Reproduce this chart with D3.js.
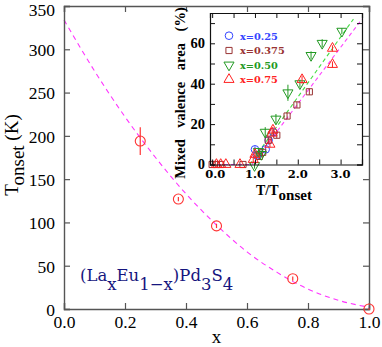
<!DOCTYPE html>
<html><head><meta charset="utf-8">
<script src="https://cdn.jsdelivr.net/npm/d3@7"></script>
<style>body{margin:0;background:#fff}svg{display:block}</style>
</head><body><svg id="c" width="382" height="347"></svg>
<script>
// ---- main panel data ----
const xComp = [0.25, 0.375, 0.5, 0.75, 1.0];
const tOnset = [194, 127, 96, 35, 0];
const tErr = [16, 2.5, 2.5, 2.5, 1];
const fitX = [0, 0.1, 0.2, 0.3, 0.4, 0.5, 0.6, 0.7, 0.8, 0.9, 1.0];
const fitT = [334, 275, 222, 175, 133, 97, 66, 42, 23, 10, 2];
const mainXTicks = [0, 0.2, 0.4, 0.6, 0.8, 1.0];
const mainYTicks = [0, 50, 100, 150, 200, 250, 300, 350];

// ---- inset data: [T/Tonset, mixed valence area %, error] ----
const seriesNames = ["x=0.25", "x=0.375", "x=0.50", "x=0.75"];
const s025 = [[1.0,7.5,1.5],[1.05,4.5,1.5],[1.25,7.5,1.5],[1.32,12,1.5],[1.43,16,1.5]];
const s0375 = [[0.0,0,0],[0.1,0,0],[0.2,0,0],[0.72,0,0],[1.1,4,1.5],[1.18,6,1.5],[1.31,12,1.5],[1.51,14.5,1.5],[1.75,24,1.5],[1.98,29.5,1.5],[2.27,36,1.5]];
const s050 = [[0.99,-0.5,1.5],[1.08,6.5,1.5],[1.15,5,1.5],[1.24,16,2.5],[1.49,22.5,2.5],[1.77,35.5,4],[2.05,40,2],[2.31,54,2],[2.57,60,2],[3.03,66,1.5]];
const s075 = [[0.1,0,0],[0.2,0,0],[0.32,0,0],[0.65,0,0],[0.96,2.5,1.5],[1.0,5,1.5],[1.35,10,1.5],[1.4,15.5,1.5],[1.42,17,1.5],[2.1,42,2],[2.81,57.5,1.5],[2.81,49.5,1.5]];
const lineMagentaX = [-0.05, 0.93, 3.5];
const lineMagentaY = [0, 0, 72];
const lineGreenX = [0.88, 3.3];
const lineGreenY = [0, 72];
const insetXTicks = [0, 1, 2, 3];
const insetYTicks = [0, 20, 40, 60];

const svg = d3.select("#c");
const serif = "'Liberation Serif', 'Times New Roman', serif";
const wide = "'DejaVu Serif', serif";

// ================= MAIN PANEL =================
const x = d3.scaleLinear().domain([0, 1]).range([64, 369]);
const y = d3.scaleLinear().domain([0, 350]).range([309, 6]);
const frameCol = "#555";

// fit curve
svg.append("path")
  .datum(fitX.map((v, i) => [v, fitT[i]]))
  .attr("d", d3.line().x(d => x(d[0])).y(d => y(d[1])).curve(d3.curveMonotoneX))
  .attr("fill", "none").attr("stroke", "#ff33ff").attr("stroke-width", 1.1)
  .attr("stroke-dasharray", "5,4");

// axes (inward ticks)
const gB = svg.append("g").attr("transform", `translate(0,${y(0)})`)
  .call(d3.axisBottom(x).tickValues(mainXTicks).tickSize(-6).tickPadding(9).tickFormat(d3.format(".1f")));
const gT = svg.append("g").attr("transform", `translate(0,${y(350)})`)
  .call(d3.axisTop(x).tickValues(mainXTicks).tickSize(-6).tickFormat(""));
const gL = svg.append("g").attr("transform", `translate(${x(0)},0)`)
  .call(d3.axisLeft(y).tickValues(mainYTicks).tickSize(-6).tickPadding(9).tickFormat(d3.format("d")));
const gR = svg.append("g").attr("transform", `translate(${x(1)},0)`)
  .call(d3.axisRight(y).tickValues(mainYTicks).tickSize(-6).tickFormat(""));
[gB, gT, gL, gR].forEach(g => {
  g.select(".domain").attr("stroke", frameCol).attr("stroke-width", 1.4);
  g.selectAll(".tick line").attr("stroke", frameCol).attr("stroke-width", 1.2);
  g.selectAll("text").attr("font-family", serif).attr("font-size", 17.5).attr("fill", "#000");
});
gB.selectAll("text").attr("dy", "0.71em").attr("y", 7);
gL.selectAll("text").attr("dy", "0.36em");
gL.selectAll(".tick").filter(d => d === 350).select("text").attr("dy", "0.55em");

// data points
const red = "#ff3333";
const pts = svg.append("g");
xComp.forEach((v, i) => {
  pts.append("line").attr("x1", x(v)).attr("x2", x(v))
    .attr("y1", y(tOnset[i] - tErr[i])).attr("y2", y(tOnset[i] + tErr[i]))
    .attr("stroke", red).attr("stroke-width", 1.2);
  pts.append("circle").attr("cx", x(v)).attr("cy", y(tOnset[i])).attr("r", 5)
    .attr("fill", "none").attr("stroke", red).attr("stroke-width", 1.1);
});

// axis labels
svg.append("text").attr("x", x(0.5)).attr("y", 343).attr("text-anchor", "middle")
  .attr("font-family", serif).attr("font-size", 19).text("x");
const yl = svg.append("text").attr("transform", "translate(18,155) rotate(-90)")
  .attr("text-anchor", "middle").attr("font-family", serif).attr("font-size", 19);
yl.append("tspan").text("T");
yl.append("tspan").attr("dy", 6).text("onset");
yl.append("tspan").attr("dy", -6).text(" (K)");

// compound label
const cl = svg.append("text").attr("x", 80).attr("y", 281)
  .attr("font-family", wide).attr("font-size", 16.5).attr("fill", "#15157e");
cl.append("tspan").text("(La");
cl.append("tspan").attr("dy", 9).text("x");
cl.append("tspan").attr("dy", -9).text("Eu");
cl.append("tspan").attr("dy", 9).text("1\u2212x");
cl.append("tspan").attr("dy", -9).text(")Pd");
cl.append("tspan").attr("dy", 9).text("3");
cl.append("tspan").attr("dy", -9).text("S");
cl.append("tspan").attr("dy", 9).text("4");

// ================= INSET =================
const ix = d3.scaleLinear().domain([-0.05, 3.5]).range([210, 362]);
const iy = d3.scaleLinear().domain([0, 75]).range([164.5, 13]);
const ins = svg.append("g");
ins.append("rect").attr("x", 210).attr("y", 13).attr("width", 152).attr("height", 151.5).attr("fill", "#fff");

const mk = (xs, ys) => xs.map((v, i) => [v, ys[i]]);
const ln = d3.line().x(d => ix(d[0])).y(d => iy(d[1]));
ins.append("path").datum(mk(lineGreenX, lineGreenY)).attr("d", ln)
  .attr("fill", "none").attr("stroke", "#44dd44").attr("stroke-width", 1.1).attr("stroke-dasharray", "4,3");
ins.append("path").datum(mk(lineMagentaX, lineMagentaY)).attr("d", ln)
  .attr("fill", "none").attr("stroke", "#ff44ff").attr("stroke-width", 1.1).attr("stroke-dasharray", "4,3");

const colors = ["#3344ff", "#993333", "#229922", "#ff2222"];
const shapes = [d3.symbolCircle, d3.symbolSquare, d3.symbolTriangle, d3.symbolTriangle];
const rots = [0, 0, 180, 0];
const sizes = [46, 38, 44, 44];
const allSeries = [s025, s0375, s050, s075];

allSeries.forEach((s, k) => {
  const g = ins.append("g");
  s.forEach(p => {
    if (p[2] > 0) {
      g.append("line").attr("x1", ix(p[0])).attr("x2", ix(p[0]))
        .attr("y1", iy(p[1] - p[2])).attr("y2", iy(p[1] + p[2]))
        .attr("stroke", colors[k]).attr("stroke-width", 1);
    }
    g.append("path").attr("d", d3.symbol().type(shapes[k]).size(sizes[k])())
      .attr("transform", `translate(${ix(p[0])},${iy(p[1])}) rotate(${rots[k]})`)
      .attr("fill", "none").attr("stroke", colors[k]).attr("stroke-width", 1);
  });
});

// inset axes
const ixT = d3.range(0, 3.51, 0.5);
const iyT = d3.range(0, 75, 10);
const ia = [
  ins.append("g").attr("transform", `translate(0,${iy(0)})`).call(d3.axisBottom(ix).tickValues(ixT).tickSize(-5).tickFormat("")),
  ins.append("g").attr("transform", `translate(0,${iy(75)})`).call(d3.axisTop(ix).tickValues(ixT).tickSize(-5).tickFormat("")),
  ins.append("g").attr("transform", `translate(${ix(-0.05)},0)`).call(d3.axisLeft(iy).tickValues(iyT).tickSize(-5).tickFormat("")),
  ins.append("g").attr("transform", `translate(${ix(3.5)},0)`).call(d3.axisRight(iy).tickValues(iyT).tickSize(-5).tickFormat(""))
];
ia.forEach(g => {
  g.select(".domain").attr("stroke", "#111").attr("stroke-width", 1.2);
  g.selectAll(".tick line").attr("stroke", "#111");
});
// inset tick labels
ins.selectAll(".ixl").data(insetXTicks).enter().append("text")
  .attr("x", d => ix(d) + (d === 0 ? 3 : 0)).attr("y", 178).attr("text-anchor", "middle")
  .attr("font-family", wide).attr("font-weight", "bold").attr("font-size", 11.5)
  .text(d => d3.format(".1f")(d));
ins.selectAll(".iyl").data(insetYTicks).enter().append("text")
  .attr("x", 205).attr("y", d => iy(d) + 5 - (d === 0 ? 1 : 0)).attr("text-anchor", "end")
  .attr("font-family", serif).attr("font-weight", "bold").attr("font-size", 14.5)
  .text(d => d);

// inset axis labels
const ixl = ins.append("text").attr("x", 256).attr("y", 195)
  .attr("font-family", serif).attr("font-weight", "bold").attr("font-size", 14);
ixl.append("tspan").text("T/T");
ixl.append("tspan").attr("dy", 5).attr("font-size", 15).text("onset");
ins.append("text").attr("transform", "translate(185,93) rotate(-90)")
  .attr("text-anchor", "middle").attr("font-family", serif).attr("font-weight", "bold")
  .attr("font-size", 14.5).attr("word-spacing", 8).text("Mixed valence area (%)");

// legend
const legY = [35.7, 50.5, 65, 79.5];
seriesNames.forEach((name, k) => {
  ins.append("path").attr("d", d3.symbol().type(shapes[k]).size(sizes[k])())
    .attr("transform", `translate(229,${legY[k]}) rotate(${rots[k]})`)
    .attr("fill", "none").attr("stroke", colors[k]).attr("stroke-width", 1);
  ins.append("text").attr("x", 240).attr("y", legY[k] + 3.8)
    .attr("font-family", wide).attr("font-weight", "bold").attr("font-size", 9.8)
    .attr("fill", colors[k]).text(name);
});
</script></body></html>
